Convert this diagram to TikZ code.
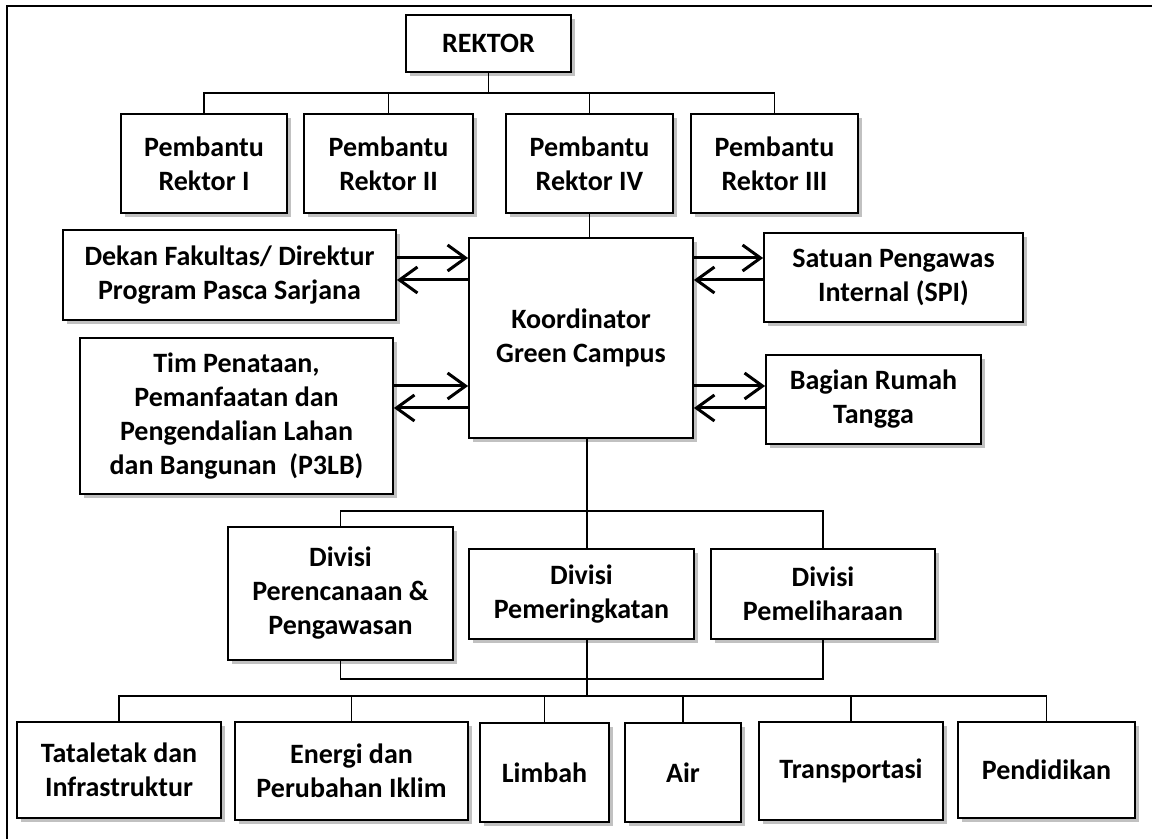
\documentclass[tikz,border=0pt]{standalone}
\usepackage{fontspec}
\setmainfont{Carlito}
\usetikzlibrary{arrows.meta}
\usetikzlibrary{shadows}

\begin{document}
\begin{tikzpicture}[x=0.5pt,y=-0.5pt,
	font=\bfseries\fontsize{14}{17}\selectfont,
	box/.style={draw, line width=0.9pt, fill=white, align=center, inner sep=0pt,
		drop shadow={shadow xshift=1.8pt, shadow yshift=-1.8pt, fill=black!35, opacity=0.7}},
	link/.style={line width=0.7pt},
	flow/.style={line width=1.5pt, -{Straight Barb[length=9pt,width=13pt]}}]
	\useasboundingbox (0,0) rectangle (1152,839);
	\draw[line width=1pt] (7,6) rectangle (1170,850);	%frame

	%rektor and pembantu rektor
	\node[box, minimum width=82.5pt, minimum height=28.5pt] (rektor) at (488.5,43.5) {REKTOR};
	\node[box, minimum width=83pt, minimum height=49.5pt] (pr1) at (204,163.5) {Pembantu\\Rektor I};
	\node[box, minimum width=84.5pt, minimum height=49.5pt] (pr2) at (388.5,163.5) {Pembantu\\Rektor II};
	\node[box, minimum width=83.5pt, minimum height=49.5pt] (pr4) at (589.5,163.5) {Pembantu\\Rektor IV};
	\node[box, minimum width=83.5pt, minimum height=49.5pt] (pr3) at (774.5,163.5) {Pembantu\\Rektor III};
	\coordinate (bus1) at (488.5,93);
	\draw[link] (rektor.south) -- (bus1);
	\foreach \n in {pr1,pr2,pr4,pr3}
		\draw[link] (\n.north) |- (bus1);

	%koordinator and side units
	\node[box, minimum width=112pt, minimum height=100pt] (koord) at (581,338) {Koordinator\\Green Campus};
	\draw[link] (pr4.south) -- (pr4.south |- koord.north);
	\node[box, minimum width=166.5pt, minimum height=45pt] (dekan) at (229.5,275) {Dekan Fakultas/ Direktur\\Program Pasca Sarjana};
	\node[box, minimum width=129.5pt, minimum height=44.5pt] (spi) at (893.5,277.5) {Satuan Pengawas\\Internal (SPI)};
	\node[box, minimum width=156.5pt, minimum height=78pt] (tim) at (236.5,416) {Tim Penataan,\\Pemanfaatan dan\\Pengendalian Lahan\\dan Bangunan\ \ (P3LB)};
	\node[box, minimum width=107.5pt, minimum height=44.5pt] (bagian) at (873.5,399.5) {Bagian Rumah\\Tangga};

	%arrows
	\coordinate (hiA) at ([yshift=40pt]koord.center);
	\coordinate (loA) at ([yshift=29pt]koord.center);
	\coordinate (hiB) at ([yshift=-24pt]koord.center);
	\coordinate (loB) at ([yshift=-35pt]koord.center);
	\draw[flow] (dekan.east |- hiA) -- (koord.west |- hiA);
	\draw[flow] (koord.west |- loA) -- (dekan.east |- loA);
	\draw[flow] (koord.east |- hiA) -- (spi.west |- hiA);
	\draw[flow] (spi.west |- loA) -- (koord.east |- loA);
	\draw[flow] (tim.east |- hiB) -- (koord.west |- hiB);
	\draw[flow] (koord.west |- loB) -- (tim.east |- loB);
	\draw[flow] (koord.east |- hiB) -- (bagian.west |- hiB);
	\draw[flow] (bagian.west |- loB) -- (koord.east |- loB);

	%divisi
	\node[box, minimum width=112.5pt, minimum height=66.5pt] (dpp) at (340.5,593.5) {Divisi\\Perencanaan \&\\Pengawasan};
	\node[box, minimum width=112.5pt, minimum height=45pt] (dpr) at (581.5,594) {Divisi\\Pemeringkatan};
	\node[box, minimum width=112pt, minimum height=45pt] (dpl) at (823,594) {Divisi\\Pemeliharaan};
	\coordinate (bus2) at (587,511);
	\coordinate (join) at (587,679);
	\coordinate (bus3) at (587,696);
	\draw[link] (bus2 |- koord.south) -- (bus2 |- dpr.north);
	\draw[link] (dpp.north) |- (bus2) -| (dpl.north);
	\draw[link] (dpp.south) |- (join) -| (dpl.south);
	\draw[link] (bus2 |- dpr.south) -- (bus3);

	%bottom row
	\node[box, minimum width=102pt, minimum height=48pt] (tata) at (119,770) {Tataletak dan\\Infrastruktur};
	\node[box, minimum width=116.5pt, minimum height=49pt] (energi) at (351.5,771) {Energi dan\\Perubahan Iklim};
	\node[box, minimum width=64.5pt, minimum height=49.5pt] (limbah) at (544.5,772.5) {Limbah};
	\node[box, minimum width=58pt, minimum height=49.5pt] (air) at (683,772.5) {Air};
	\node[box, minimum width=92pt, minimum height=49pt] (trans) at (851,771) {Transportasi};
	\node[box, minimum width=88.5pt, minimum height=48pt] (didik) at (1046.5,770) {Pendidikan};
	\foreach \n in {tata,energi,limbah,air,trans,didik}
		\draw[link] (\n.north) |- (bus3);
\end{tikzpicture}
\end{document}
